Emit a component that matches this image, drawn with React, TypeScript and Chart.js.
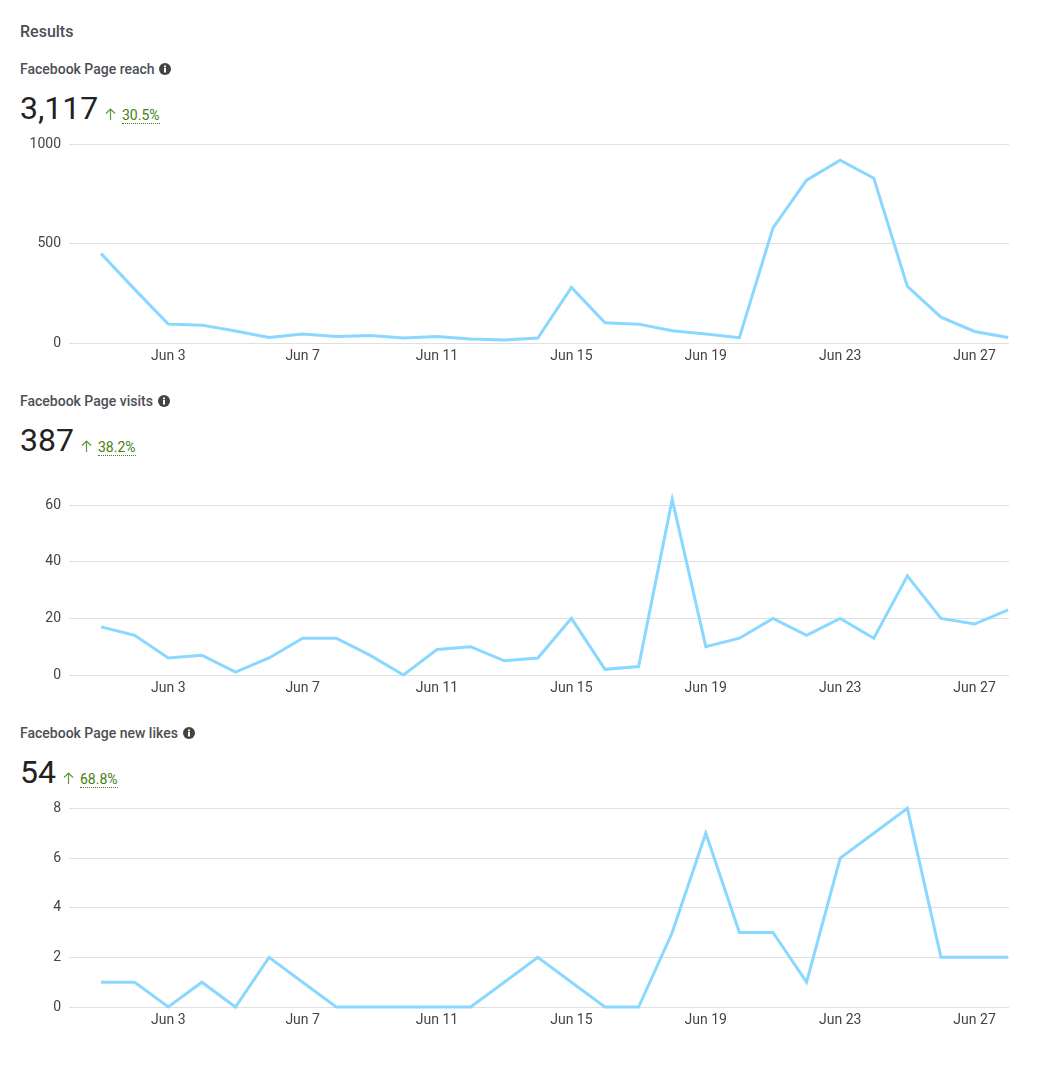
import React, { useEffect, useRef } from "react";
import { Chart, registerables } from "chart.js";

Chart.register(...registerables);

const days = [1, 2, 3, 4, 5, 6, 7, 8, 9, 10, 11, 12, 13, 14, 15, 16, 17, 18, 19, 20, 21, 22, 23, 24, 25, 26, 27, 28];
const tickDays = [3, 7, 11, 15, 19, 23, 27];
const reach = [450, 270, 95, 90, 60, 28, 45, 33, 38, 25, 33, 20, 15, 25, 280, 102, 95, 62, 45, 27, 580, 820, 920, 830, 285, 130, 58, 28];
const visits = [17, 14, 6, 7, 1, 6, 13, 13, 7, 0, 9, 10, 5, 6, 20, 2, 3, 62, 10, 13, 20, 14, 20, 13, 35, 20, 18, 23];
const likes = [1, 1, 0, 1, 0, 2, 1, 0, 0, 0, 0, 0, 1, 2, 1, 0, 0, 3, 7, 3, 3, 1, 6, 7, 8, 2, 2, 2];
const reachTicks = [0, 500, 1000];
const visitsTicks = [0, 20, 40, 60];
const likesTicks = [0, 2, 4, 6, 8];

const FONT = "Roboto, sans-serif";

function LineChart({ top, height, values, ticks, yMax }: { top: number; height: number; values: number[]; ticks: number[]; yMax: number }) {
  const ref = useRef<HTMLCanvasElement>(null);
  useEffect(() => {
    const chart = new Chart(ref.current!, {
      type: "line",
      data: {
        datasets: [
          {
            data: values.map((v, i) => ({ x: days[i], y: v })),
            borderColor: "#8AD8FF",
            borderWidth: 3,
            pointRadius: 0,
            tension: 0,
            fill: false,
            clip: false as any,
          },
        ],
      },
      options: {
        animation: false,
        responsive: false,
        maintainAspectRatio: false,
        layout: { padding: { top: 0, right: 44, bottom: 0, left: 0 } },
        plugins: { legend: { display: false }, tooltip: { enabled: false } },
        scales: {
          x: {
            type: "linear",
            min: 0.045,
            max: 28.025,
            afterBuildTicks: (axis: any) => {
              axis.ticks = tickDays.map((value) => ({ value }));
            },
            afterFit: (axis: any) => {
              axis.height = 30;
            },
            grid: { display: false, drawTicks: false },
            border: { display: false },
            ticks: {
              autoSkip: false,
              maxRotation: 0,
              padding: 5,
              color: "#444",
              font: { family: FONT, size: 14 },
              callback: (v: any) => `Jun ${v}`,
            },
          },
          y: {
            min: 0,
            max: yMax,
            afterBuildTicks: (axis: any) => {
              axis.ticks = ticks.map((value) => ({ value }));
            },
            afterFit: (axis: any) => {
              axis.width = 69;
            },
            grid: { color: "#E0E0E0", lineWidth: 1, drawTicks: false },
            border: { display: false },
            ticks: {
              padding: 8,
              color: "#444",
              font: { family: FONT, size: 14 },
              callback: (v: any) => `${v}`,
            },
          },
        },
      },
    });
    return () => chart.destroy();
  }, []);
  return <canvas ref={ref} width={1053} height={height} style={{ position: "absolute", left: 0, top, width: 1053, height, display: "block" }} />;
}

function Info({ left, top }: { left: number; top: number }) {
  return (
    <svg width="12" height="12" viewBox="0 0 12 12" style={{ position: "absolute", left, top }}>
      <circle cx="6" cy="6" r="6" fill="#444" />
      <rect x="5" y="5" width="2" height="4.5" fill="#fff" />
      <rect x="5" y="2.5" width="2" height="1.8" fill="#fff" />
    </svg>
  );
}

function Arrow({ left, top }: { left: number; top: number }) {
  return (
    <svg width="11" height="12" viewBox="0 0 11 12" style={{ position: "absolute", left, top }}>
      <path d="M5.5 12V1M1 5.5L5.5 1L10 5.5" fill="none" stroke="#5B9A3C" strokeWidth="1.2" />
    </svg>
  );
}

function Header({ top, title, iconLeft, total, totalWidth, delta }: { top: number; title: string; iconLeft: number; total: string; totalWidth: number; delta: string }) {
  return (
    <>
      <div style={{ position: "absolute", left: 20, top: top - 8, font: `500 14px/16px ${FONT}`, color: "#4B4F56", whiteSpace: "nowrap" }}>{title}</div>
      <Info left={iconLeft} top={top - 6} />
      <div style={{ position: "absolute", left: 20, top: top + 20, font: `400 32px/38px ${FONT}`, color: "#222", whiteSpace: "nowrap" }}>{total}</div>
      <Arrow left={20 + totalWidth + 6.5} top={top + 39} />
      <div style={{ position: "absolute", left: 20 + totalWidth + 24, top: top + 39, font: `400 14px/15px ${FONT}`, color: "#42800F", borderBottom: "1px dotted #42800F", whiteSpace: "nowrap" }}>{delta}</div>
    </>
  );
}

export default function App() {
  return (
    <div style={{ position: "absolute", left: 0, top: 0, width: 1053, height: 1076, overflow: "hidden" }}>
      <div style={{ position: "absolute", left: 20, top: 24, font: `500 16px/16px ${FONT}`, color: "#4B4F56" }}>Results</div>
      <Header top={69} title="Facebook Page reach" iconLeft={159} total="3,117" totalWidth={78} delta="30.5%" />
      <LineChart top={128} height={245} values={reach} ticks={reachTicks} yMax={1000} />
      <Header top={401} title="Facebook Page visits" iconLeft={158} total="387" totalWidth={54} delta="38.2%" />
      <LineChart top={483} height={222} values={visits} ticks={visitsTicks} yMax={62} />
      <Header top={733} title="Facebook Page new likes" iconLeft={183} total="54" totalWidth={36} delta="68.8%" />
      <LineChart top={792} height={245} values={likes} ticks={likesTicks} yMax={8} />
    </div>
  );
}
